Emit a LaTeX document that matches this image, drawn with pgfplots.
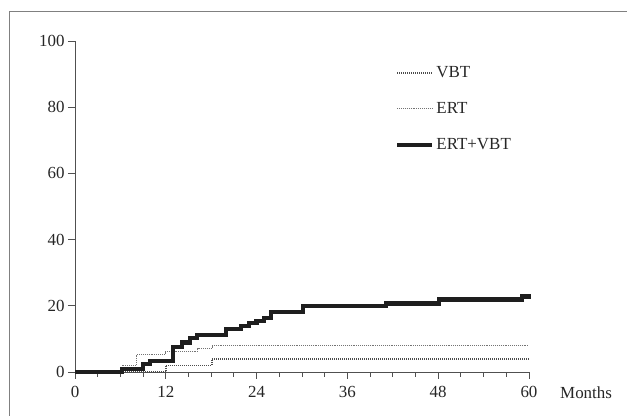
\documentclass[border=0pt]{standalone}
\usepackage{fontspec}
\setmainfont{Liberation Serif}
\usepackage{pgfplots}
\pgfplotsset{compat=1.18}
\definecolor{axisgray}{HTML}{505050}
\definecolor{framegray}{HTML}{808080}
\definecolor{lineblack}{HTML}{1E1E1E}
\newcommand{\fs}{\fontsize{17}{20}\selectfont}

\begin{document}
\begin{tikzpicture}
\path[use as bounding box] (0,0) rectangle (627bp,416bp);
% partial frame of the figure
\draw[framegray, line width=1bp] (9bp,0) -- (9bp,404bp) -- (627bp,404bp);

\begin{axis}[
    at={(75bp,44bp)}, anchor=south west,
    scale only axis,
    width=454bp, height=331bp,
    xmin=0, xmax=60, ymin=0, ymax=100,
    axis lines=left,
    axis line style={-, axisgray, line width=0.9bp},
    xtick={0,12,...,60},
    minor xtick={0,3,...,60},
    ytick={0,20,...,100},
    tick align=outside,
    major tick length=7bp,
    minor tick length=5bp,
    tick style={axisgray, line width=0.9bp},
    every tick label/.append style={font=\fs, text=black!85},
    xticklabel style={yshift=-4bp},
    /pgf/number format/assume math mode=true,
    clip=false,
    legend style={at={(axis cs:42.3,93)}, anchor=north west, draw=none,
        fill=none, font=\fs, row sep=19.5bp, inner sep=0pt,
        text=black!85},
    legend cell align=left,
    legend image code/.code={\draw[#1] (0bp,0bp) -- (35bp,0bp);},
]
% VBT
\addplot[const plot, black!70, line width=1.7bp, dash pattern=on 1.1bp off 0.9bp]
coordinates {(0,0)(12.0,2.0)(18.1,3.9)(60,3.9)};
\addlegendentry{VBT}
% ERT
\addplot[const plot, black!55, line width=0.8bp, dash pattern=on 0.8bp off 1.1bp]
coordinates {(0,0)(6.2,2.0)(8.1,5.3)(11.9,6.1)(16.2,7.2)(18.1,8.0)(60,8.0)};
\addlegendentry{ERT}
% ERT+VBT
\addplot[const plot, lineblack, line width=4.2bp]
coordinates {(0,0)(6.2,1.0)(9.0,2.3)(9.9,3.4)(13.0,7.6)(14.1,8.9)(15.2,10.2)
(16.1,11.2)(20.0,12.9)(21.9,14.0)(23.0,14.7)(24.0,15.5)(25.0,16.4)(25.9,18.2)
(30.1,20.0)(41.1,20.7)(48.1,21.9)(59.1,22.8)(60.3,22.8)};
\addlegendentry{ERT+VBT}
\node[font=\fs, text=black!85, anchor=north west, inner sep=0pt]
  at ([xshift=31bp,yshift=-15bp]axis cs:60,0) {Months};
\end{axis}
\end{tikzpicture}
\end{document}
